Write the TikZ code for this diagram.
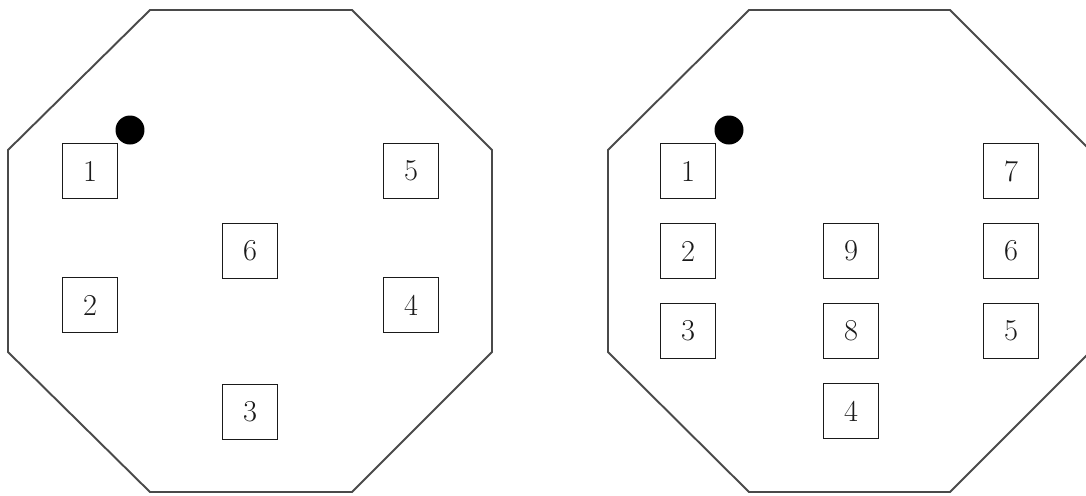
\documentclass[tikz,border=0pt]{standalone}
\usetikzlibrary{calc}
\definecolor{ink}{HTML}{1A1A1A}
\definecolor{rim}{HTML}{4A4A4A}

\begin{document}
\begin{tikzpicture}[
    x=0.02cm, y=-0.02cm,
    % Octagon outline
    octa/.style={draw=rim, line width=1.1pt, line join=miter},
    % Numbered square
    sq/.style={rectangle, draw=ink, line width=1.1pt, fill=white,
               minimum size=1.1cm, inner sep=0pt, font=\LARGE, text=ink},
    % Black marker
    mark dot/.style={circle, fill=black, minimum size=0.58cm, inner sep=0pt}
]
\useasboundingbox (0,0) rectangle (1086,495);

% ========== LEFT: six positions ==========
\draw[octa] (150,10) -- (352,10) -- (492,150) -- (492,352)
    -- (352,492) -- (150,492) -- (8,352) -- (8,150) -- cycle;

\node[mark dot] (dotL) at (130,130) {};
\node[sq] (l1) at (90,171)  {1};
\node[sq] (l2) at (90,305)  {2};
\node[sq] (l3) at (250,412) {3};
\node[sq] (l4) at (411,305) {4};
\node[sq] (l5) at (411,171) {5};
\node[sq] (l6) at (250,251) {6};

% ========== RIGHT: nine positions ==========
\draw[octa] (749,10) -- (950,10) -- (1090,150) -- (1090,352)
    -- (950,492) -- (749,492) -- (608,352) -- (608,150) -- cycle;

\node[mark dot] (dotR) at (729,130) {};
\node[sq] (r1) at (688,171)  {1};
\node[sq] (r2) at (688,251)  {2};
\node[sq] (r3) at (688,331)  {3};
\node[sq] (r4) at (851,411)  {4};
\node[sq] (r5) at (1011,331) {5};
\node[sq] (r6) at (1011,251) {6};
\node[sq] (r7) at (1011,171) {7};
\node[sq] (r8) at (851,331)  {8};
\node[sq] (r9) at (851,251)  {9};

\end{tikzpicture}
\end{document}
